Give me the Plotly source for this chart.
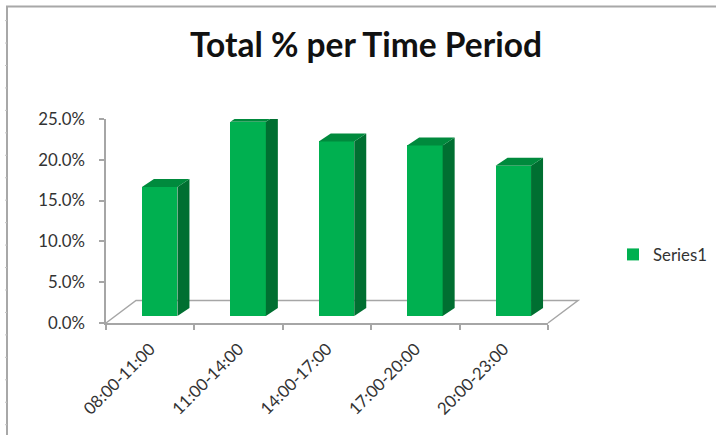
import plotly.graph_objects as go

categories = ["08:00-11:00", "11:00-14:00", "14:00-17:00", "17:00-20:00", "20:00-23:00"]
series1 = [15.8, 23.8, 21.4, 20.9, 18.4]
series_name = "Series1"
y_ticks = [0, 5, 10, 15, 20, 25]
y_tick_labels = ["0.0%", "5.0%", "10.0%", "15.0%", "20.0%", "25.0%"]

W, H = 716, 435
L, R, T, B = 106, 548, 119, 323
FRONT, SIDE, TOP = "#00B050", "#006F31", "#008A3D"
GREY = "#A6A6A6"
TEXT = "#333333"
FONT = "Lato"
TICK_SIZE = 16.8

px_per_cat = (R - L) / len(categories)
px_per_val = (B - T) / 25
BASE = 7 / px_per_val          # bars stand part-way back on the floor
DX = 12 / px_per_cat           # depth of bar, horizontal
DY = 8 / px_per_val            # depth of bar, vertical
BAR_W = 35.5 / px_per_cat
BAR_SHIFT = 9.5 / px_per_cat


# paper coordinates are relative to the plot area
def X(p):
    return (p - L) / (R - L)


def Y(p):
    return (B - p) / (B - T)


fig = go.Figure()
fig.add_trace(go.Bar(
    x=categories, y=series1, base=BASE, name=series_name,
    width=BAR_W, offset=BAR_SHIFT - BAR_W / 2,
    marker=dict(color=FRONT, line=dict(width=0)),
    xaxis="x", yaxis="y", showlegend=True,
))

side_x, side_y, top_x, top_y = [], [], [], []
for i, v in enumerate(series1):
    xl = i + BAR_SHIFT - BAR_W / 2
    xr = xl + BAR_W
    t = BASE + v
    side_x += [xr, xr + DX, xr + DX, xr, xr, None]
    side_y += [BASE, BASE + DY, t + DY, t, BASE, None]
    top_x += [xl, xr, xr + DX, xl + DX, xl, None]
    top_y += [t, t, t + DY, t + DY, t, None]

for fx, fy, col in ((side_x, side_y, SIDE), (top_x, top_y, TOP)):
    fig.add_trace(go.Scatter(
        x=fx, y=fy, mode="lines", fill="toself", fillcolor=col,
        line=dict(width=0, color=col), xaxis="x2", yaxis="y",
        showlegend=False, hoverinfo="skip", cliponaxis=False,
    ))

FRAME = "#A8A8A8"
shapes = [
    dict(type="line", xref="paper", yref="paper", x0=X(7), x1=X(7), y0=Y(6), y1=Y(435),
         line=dict(color=FRAME, width=2), layer="below"),
    dict(type="line", xref="paper", yref="paper", x0=X(6), x1=X(716), y0=Y(6.5), y1=Y(6.5),
         line=dict(color=FRAME, width=2), layer="below"),
    dict(type="path", xref="paper", yref="paper",
         path=f"M{X(L)},{Y(B)} L{X(136)},{Y(300.5)} L{X(578)},{Y(300.5)} L{X(R)},{Y(B)}",
         line=dict(color=GREY, width=1.5), layer="below"),
]
tick_y = 20.6
while tick_y < H:
    shapes.append(dict(type="line", xref="paper", yref="paper", x0=X(5), x1=X(7),
                       y0=Y(tick_y), y1=Y(tick_y),
                       line=dict(color="#C4C4C4", width=1), layer="below"))
    tick_y += 22.45

fig.update_layout(
    width=W, height=H,
    margin=dict(l=L, r=W - R, t=T, b=H - B, autoexpand=False),
    paper_bgcolor="white", plot_bgcolor="rgba(0,0,0,0)",
    font=dict(family=FONT, color=TEXT, size=TICK_SIZE),
    title=dict(text="<b>Total % per Time Period</b>", x=366 / W, xanchor="center",
               y=1 - 45 / H, yanchor="middle",
               font=dict(family=FONT, size=33.5, color="#111111")),
    xaxis=dict(type="category", categoryorder="array", categoryarray=categories,
               range=[-0.5, 4.5], tickson="boundaries", ticks="outside", ticklen=5,
               tickcolor=GREY, tickwidth=1.5, showline=True, linecolor=GREY, linewidth=1.5,
               showgrid=False, tickangle=-45, ticklabelstandoff=8,
               tickfont=dict(size=TICK_SIZE, color=TEXT)),
    xaxis2=dict(overlaying="x", range=[-0.5, 4.5], visible=False, showgrid=False),
    yaxis=dict(range=[0, 25], tickmode="array", tickvals=y_ticks, ticktext=y_tick_labels,
               ticks="outside", ticklen=5, tickcolor=GREY, tickwidth=1.5,
               showline=True, linecolor=GREY, linewidth=1.5, showgrid=False, zeroline=False,
               ticklabelstandoff=11, tickfont=dict(size=TICK_SIZE, color=TEXT)),
    legend=dict(x=X(613), xanchor="left", y=Y(254.5), yanchor="middle",
                font=dict(size=TICK_SIZE, color=TEXT), bgcolor="rgba(0,0,0,0)", itemwidth=30),
    shapes=shapes,
    bargap=0,
)

fig.write_html("out.html", config={"displayModeBar": False},
               post_script="document.body.style.margin='0';document.body.style.overflow='hidden';")
